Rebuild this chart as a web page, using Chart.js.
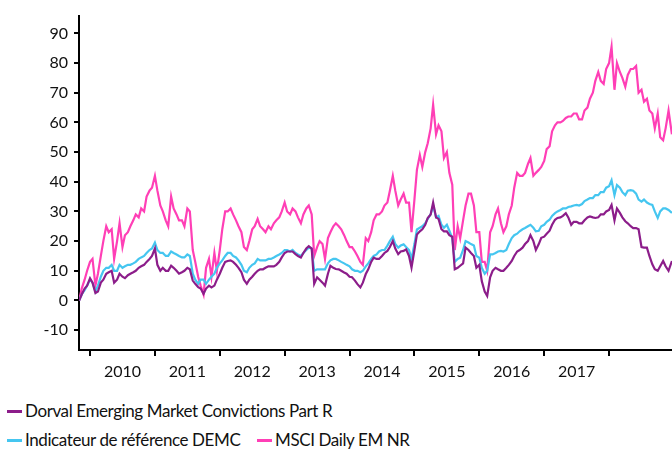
<!DOCTYPE html>
<html>
<head>
<meta charset="utf-8">
<script src="https://cdn.jsdelivr.net/npm/chart.js@4"></script>
<style>
  body { margin: 0; background: #fff; width: 672px; height: 453px; overflow: hidden; position: relative; }
  #c { position: absolute; left: 0; top: 0; }
  .legend { position: absolute; left: 0; top: 0; font-family: Lato, "Open Sans", sans-serif; font-size: 17px; color: #111; letter-spacing: -0.4px; white-space: nowrap; }
  .item { position: absolute; }
  .mark { display: inline-block; width: 15px; height: 3px; vertical-align: middle; margin-right: 3px; position: relative; top: -1px; }
</style>
</head>
<body>
<canvas id="c" width="672" height="390"></canvas>
<div class="legend" id="legend"></div>
<script>
// twice-monthly readings (1st and 15th), performance since start in %
const dates = [
  '2009-11-01', '2009-11-15', '2009-12-01', '2009-12-15',
  '2010-01-01', '2010-01-15', '2010-02-01', '2010-02-15', '2010-03-01', '2010-03-15', '2010-04-01', '2010-04-15', '2010-05-01', '2010-05-15', '2010-06-01', '2010-06-15',
  '2010-07-01', '2010-07-15', '2010-08-01', '2010-08-15', '2010-09-01', '2010-09-15', '2010-10-01', '2010-10-15', '2010-11-01', '2010-11-15', '2010-12-01', '2010-12-15',
  '2011-01-01', '2011-01-15', '2011-02-01', '2011-02-15', '2011-03-01', '2011-03-15', '2011-04-01', '2011-04-15', '2011-05-01', '2011-05-15', '2011-06-01', '2011-06-15',
  '2011-07-01', '2011-07-15', '2011-08-01', '2011-08-15', '2011-09-01', '2011-09-15', '2011-10-01', '2011-10-15', '2011-11-01', '2011-11-15', '2011-12-01', '2011-12-15',
  '2012-01-01', '2012-01-15', '2012-02-01', '2012-02-15', '2012-03-01', '2012-03-15', '2012-04-01', '2012-04-15', '2012-05-01', '2012-05-15', '2012-06-01', '2012-06-15',
  '2012-07-01', '2012-07-15', '2012-08-01', '2012-08-15', '2012-09-01', '2012-09-15', '2012-10-01', '2012-10-15', '2012-11-01', '2012-11-15', '2012-12-01', '2012-12-15',
  '2013-01-01', '2013-01-15', '2013-02-01', '2013-02-15', '2013-03-01', '2013-03-15', '2013-04-01', '2013-04-15', '2013-05-01', '2013-05-15', '2013-06-01', '2013-06-15',
  '2013-07-01', '2013-07-15', '2013-08-01', '2013-08-15', '2013-09-01', '2013-09-15', '2013-10-01', '2013-10-15', '2013-11-01', '2013-11-15', '2013-12-01', '2013-12-15',
  '2014-01-01', '2014-01-15', '2014-02-01', '2014-02-15', '2014-03-01', '2014-03-15', '2014-04-01', '2014-04-15', '2014-05-01', '2014-05-15', '2014-06-01', '2014-06-15',
  '2014-07-01', '2014-07-15', '2014-08-01', '2014-08-15', '2014-09-01', '2014-09-15', '2014-10-01', '2014-10-15', '2014-11-01', '2014-11-15', '2014-12-01', '2014-12-15',
  '2015-01-01', '2015-01-15', '2015-02-01', '2015-02-15', '2015-03-01', '2015-03-15', '2015-04-01', '2015-04-15', '2015-05-01', '2015-05-15', '2015-06-01', '2015-06-15',
  '2015-07-01', '2015-07-15', '2015-08-01', '2015-08-15', '2015-09-01', '2015-09-15', '2015-10-01', '2015-10-15', '2015-11-01', '2015-11-15', '2015-12-01', '2015-12-15',
  '2016-01-01', '2016-01-15', '2016-02-01', '2016-02-15', '2016-03-01', '2016-03-15', '2016-04-01', '2016-04-15', '2016-05-01', '2016-05-15', '2016-06-01', '2016-06-15',
  '2016-07-01', '2016-07-15', '2016-08-01', '2016-08-15', '2016-09-01', '2016-09-15', '2016-10-01', '2016-10-15', '2016-11-01', '2016-11-15', '2016-12-01', '2016-12-15',
  '2017-01-01', '2017-01-15', '2017-02-01', '2017-02-15', '2017-03-01', '2017-03-15', '2017-04-01', '2017-04-15', '2017-05-01', '2017-05-15', '2017-06-01', '2017-06-15',
  '2017-07-01', '2017-07-15', '2017-08-01', '2017-08-15', '2017-09-01', '2017-09-15', '2017-10-01', '2017-10-15', '2017-11-01', '2017-11-15', '2017-12-01', '2017-12-15',
  '2018-01-01', '2018-01-15', '2018-02-01', '2018-02-15', '2018-03-01', '2018-03-15', '2018-04-01', '2018-04-15', '2018-05-01', '2018-05-15', '2018-06-01', '2018-06-15',
  '2018-07-01', '2018-07-15', '2018-08-01', '2018-08-15', '2018-09-01', '2018-09-15', '2018-10-01', '2018-10-15', '2018-11-01', '2018-11-15', '2018-12-01', '2018-12-20'
];

const dorval = [
  0, 2, 4, 5,
  7.5, 6, 2.5, 3, 6, 7, 9, 9.5, 10, 6, 7, 9, 8, 7.5, 8.5, 9, 9.5, 10, 11, 11.5, 12, 13, 14, 15,
  17.5, 12, 10, 11, 10, 10, 11.7, 11, 10, 9, 9.5, 10, 11, 10.5, 6.7, 5.6, 4.5, 4, 2.2, 4, 5, 4.4, 5, 7,
  9, 11, 13, 13.3, 13.5, 13, 12, 11, 9.5, 7, 5.6, 7, 8, 9, 10, 10.5, 10.5, 11, 11.5, 11.5, 11.5, 12, 13, 14.5,
  16, 16.5, 16.5, 16.5, 15.6, 15, 14.5, 16, 17.5, 18.3, 17.5, 5.6, 7.8, 7, 6, 5, 9, 11.7, 11, 10.6, 10.5, 10, 9.4, 9,
  8, 7.8, 6.7, 5.5, 4.4, 6, 8.9, 10.5, 13, 14.4, 14, 14, 15, 16, 16.7, 18, 20, 17.5, 15.6, 16.5, 16.7, 17.2, 15, 11.1,
  17, 22.2, 23.3, 24, 25.5, 27.8, 29, 33, 28, 27.5, 24, 23.3, 23.3, 22, 21.5, 10.5, 11, 11.7, 12.5, 17.8, 17, 16, 15, 11,
  12, 6.5, 3, 1.5, 7.8, 10, 11, 10.5, 10, 10, 11, 12, 13.3, 15, 16.5, 17, 17.8, 19, 20, 22, 20, 17, 19, 21.1,
  21.5, 22.5, 23.5, 25.5, 27.2, 27.8, 28, 28.5, 29.4, 28, 25.5, 26.5, 26.5, 26, 26, 27, 28, 28.3, 28, 27.8, 28, 29, 29, 30,
  30.5, 32.2, 27, 31, 29.5, 28, 26.7, 26, 25, 24.4, 24.4, 24, 18, 17.8, 17.8, 15, 12.2, 10.5, 10, 11.5, 13.3, 11.5, 10, 13.3
];

const indicateur = [
  0, 2, 3.5, 5,
  7, 6, 3, 5, 8, 10, 11, 11, 12, 10, 10, 12, 11, 11.5, 12, 12, 12.5, 13, 14, 14.5, 15, 16, 17, 17.5,
  19.5, 17, 16, 16, 15, 15, 16.5, 16, 15.5, 15, 14.5, 14.5, 15.5, 15, 9, 7, 5.6, 7, 7, 5.6, 7, 8, 9, 11,
  12.5, 13.5, 15, 16, 16, 15, 14.5, 13.5, 12, 10, 9.5, 11, 12, 12.5, 14, 13.5, 13.5, 13.5, 14, 14, 14.5, 15, 15.5, 16,
  17, 17, 16.5, 17, 16, 15.5, 15, 16, 17, 17.8, 17.5, 10, 10.5, 10.5, 10.5, 10.5, 12.5, 13.5, 14, 14, 13.5, 13, 12.5, 12,
  11.5, 10.5, 10, 10, 9.5, 10, 11.5, 12.5, 14, 15, 15.5, 16.5, 17, 17, 18.5, 20, 21.5, 19, 17.8, 18.5, 18.9, 18, 17, 14,
  19, 23.9, 24.5, 25, 26, 27.5, 29, 32, 28, 28.5, 25.5, 24.5, 25.5, 23.5, 21, 13, 14, 14.4, 17, 20, 19.5, 19, 18.5, 15,
  14.4, 11, 9, 10, 15.5, 15.5, 16, 16.5, 16.7, 16.5, 17, 19, 21, 22, 22.5, 23.3, 24, 24.4, 25, 25.5, 24.5, 23.3, 23.5, 25,
  25.5, 26.5, 27.2, 28.5, 29.4, 30, 30.5, 31, 31, 31.5, 31.7, 32, 32.2, 32, 32.5, 33.5, 34, 34.5, 34.5, 35.5, 35.5, 36.5, 36.5, 38,
  38.5, 40.5, 35.5, 38.9, 38, 36.5, 35.5, 37, 37.2, 37, 36, 34, 33.3, 34, 33, 32.5, 32.2, 30, 27.8, 30, 31, 31, 30.5, 29.5
];

const msci = [
  0, 4, 7, 10,
  13, 14, 5, 9, 15, 20, 25, 23, 24, 14, 20, 26, 18, 22, 23, 25, 27, 29, 28, 31, 30, 35, 37, 38,
  42, 37, 32, 30, 27, 25, 35, 31, 29, 27, 27, 25, 31, 30, 17, 13, 8, 5, 2, 11, 14, 8, 16, 10,
  17, 24, 30, 30, 31, 29, 27, 25, 23, 18, 17, 20, 24, 25, 27.5, 25, 24, 23, 25, 24, 26, 27, 28, 30,
  33, 30, 29, 31, 30, 28, 26, 29, 31, 32, 29, 15, 18, 20, 19, 14, 21, 23, 25, 26, 25, 24, 22, 20,
  18, 18, 16.5, 15, 13, 12, 21, 20, 23, 27, 29, 29, 30, 32, 33, 37, 42, 37, 32, 34, 36, 33, 33, 23,
  34, 44, 49, 45, 50, 53, 58, 66, 56, 59, 57, 48, 50, 43, 39, 17, 25, 21, 27, 32, 36, 36, 32, 23,
  23, 13, 13, 10, 23, 25, 29, 31, 26, 23, 25, 29, 32, 38, 43, 42, 42, 43, 46, 48, 42, 43, 44, 45,
  47, 51, 52, 57, 59, 60, 60, 60.5, 61.5, 62, 62, 63, 63, 61, 61, 64, 65, 68, 70, 74, 77, 74, 73, 78,
  80, 85.5, 71, 80, 77, 75, 72, 76, 78, 78, 79, 70, 71, 67, 68, 64, 63, 58, 63, 55, 54, 58, 64, 56
];

const yearTicks = [2010, 2011, 2012, 2013, 2014, 2015, 2016, 2017, 2018];
const yearLabels = ['2010', '2011', '2012', '2013', '2014', '2015', '2016', '2017'];
const yTicks = [-10, 0, 10, 20, 30, 40, 50, 60, 70, 80, 90];

const series = [
  { label: 'Dorval Emerging Market Convictions Part R', values: dorval, color: '#8c1d8a' },
  { label: 'Indicateur de référence DEMC', values: indicateur, color: '#45c6f0' },
  { label: 'MSCI Daily EM NR', values: msci, color: '#ff3fb6' }
];

function toYear(s) {
  const p = s.split('-').map(Number);
  return p[0] + (p[1] - 1) / 12 + (p[2] - 1) / 365;
}

Chart.defaults.font.family = 'Lato, "Open Sans", sans-serif';
Chart.defaults.font.size = 16;
Chart.defaults.color = '#111';

const datasets = series.map(s => ({
  label: s.label,
  data: dates.map((d, i) => ({ x: toYear(d), y: s.values[i] })),
  borderColor: s.color,
  backgroundColor: s.color,
  borderWidth: 2.2,
  pointRadius: 0,
  tension: 0,
  fill: false
}));

new Chart(document.getElementById('c'), {
  type: 'line',
  data: { datasets },
  options: {
    responsive: false,
    animation: false,
    layout: { padding: { top: 12, right: 0, left: 0, bottom: 0 } },
    plugins: { legend: { display: false }, tooltip: { enabled: false } },
    scales: {
      x: {
        type: 'linear',
        min: 2009.83,
        max: 2018.97,
        afterBuildTicks: scale => {
          const t = [];
          yearTicks.forEach(y => {
            t.push({ value: y });
            if (y - 2010 < yearLabels.length) t.push({ value: y + 0.5 });
          });
          scale.ticks = t;
        },
        afterFit: scale => { scale.height = 40; },
        ticks: {
          autoSkip: false,
          maxRotation: 0,
          padding: 6,
          callback: v => {
            const i = Math.floor(v) - 2010;
            return (v % 1 !== 0 && yearLabels[i]) ? yearLabels[i] : '';
          }
        },
        grid: {
          drawOnChartArea: false,
          tickLength: 6,
          lineWidth: 2,
          tickColor: ctx => (ctx.tick && ctx.tick.value % 1 === 0) ? '#000' : 'rgba(0,0,0,0)'
        },
        border: { color: '#000', width: 2 }
      },
      y: {
        min: -16.7,
        max: 96,
        afterBuildTicks: scale => { scale.ticks = yTicks.map(v => ({ value: v })); },
        afterFit: scale => { scale.width = 79; },
        ticks: { padding: 6 },
        grid: { drawOnChartArea: false, tickLength: 5, lineWidth: 2, tickColor: '#000' },
        border: { color: '#000', width: 2 }
      }
    }
  }
});

// legend as in the original: first entry alone, the other two share the second row
const legend = document.getElementById('legend');
const rows = [[{ s: series[0], x: 7 }], [{ s: series[1], x: 7 }, { s: series[2], x: 257 }]];
rows.forEach((row, r) => {
  row.forEach(it => {
    const el = document.createElement('div');
    el.className = 'item';
    el.style.left = it.x + 'px';
    el.style.top = (400 + r * 29) + 'px';
    el.innerHTML = '<span class="mark" style="background:' + it.s.color + '"></span>' + it.s.label;
    legend.appendChild(el);
  });
});
</script>
</body>
</html>
